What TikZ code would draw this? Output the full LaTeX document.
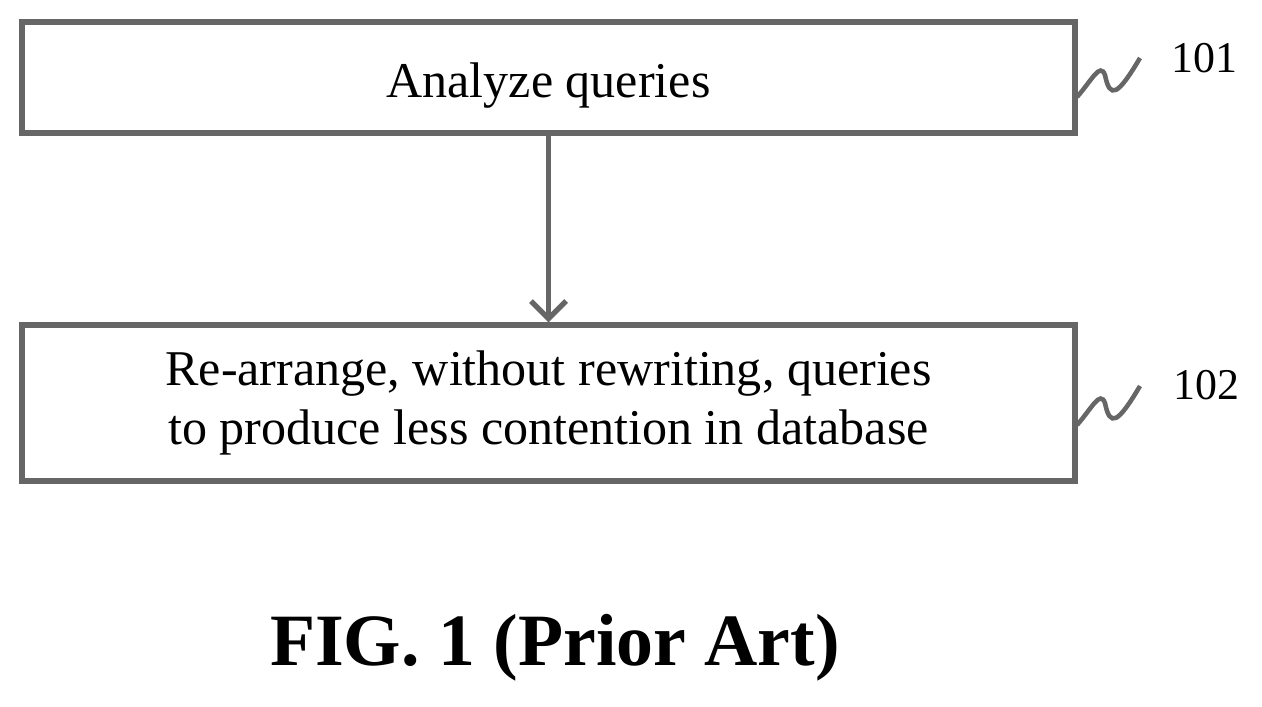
\documentclass[tikz,border=0pt]{standalone}
\usepackage{fontspec}
\setmainfont{Liberation Serif}
\usetikzlibrary{arrows.meta}
\begin{document}
\begin{tikzpicture}[x=0.02cm,y=-0.02cm,
  boxline/.style={draw=black!60,line width=3pt},
  txt/.style={font=\fontsize{28.5}{34}\selectfont,align=center},
  lbl/.style={font=\fontsize{25}{30}\selectfont,anchor=west}]
\useasboundingbox (0,0) rectangle (1262,707);
\node[boxline,minimum width=1053*0.02cm,minimum height=111*0.02cm] (b1) at (548.5,77.5) {};
\node[txt] (t1) at (548.5,86) {Analyze queries};
\node[boxline,minimum width=1053*0.02cm,minimum height=156*0.02cm,txt] (b2) at (548.5,403) {Re-arrange, without rewriting, queries\\to produce less contention in database};
\draw[boxline,-{Straight Barb[length=10pt,width=20pt,line width=3pt]}] (b1.south) -- (b2.north);
\coordinate (s1) at (1077,97);
\coordinate (s2) at (1077,425);
\draw[boxline,line width=2.6pt] (s1) .. controls (1092,80) and (1100,62) .. (1105,75) .. controls (1110,100) and (1118,95) .. (1140,58);
\draw[boxline,line width=2.6pt] (s2) .. controls (1092,408) and (1100,390) .. (1105,403) .. controls (1110,428) and (1118,423) .. (1140,386);
\node[lbl] (l1) at (1165,58) {101};
\node[lbl] (l2) at (1167,385) {102};
\node[font=\fontsize{42}{46}\selectfont\bfseries] (fig) at (555,648) {FIG. 1 (Prior Art)};
\end{tikzpicture}
\end{document}
